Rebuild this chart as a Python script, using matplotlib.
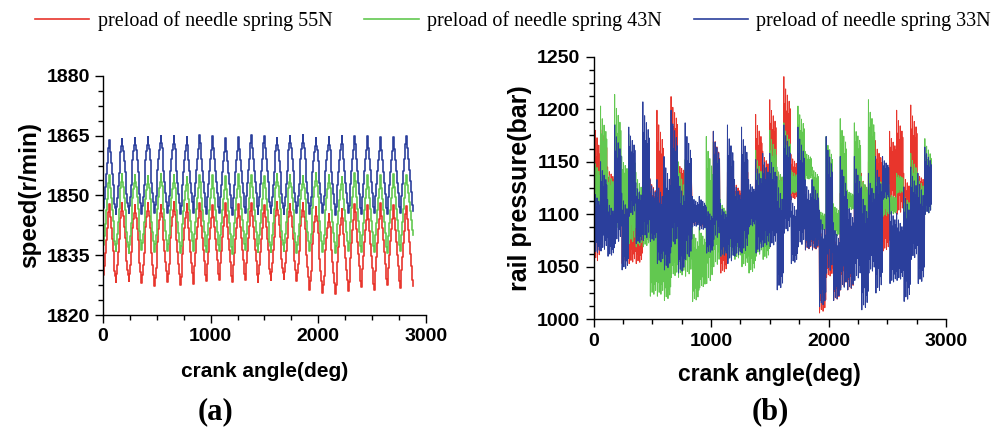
import numpy as np
import matplotlib
matplotlib.use("Agg")
import matplotlib.pyplot as plt
from matplotlib.ticker import AutoMinorLocator, MultipleLocator
from matplotlib.lines import Line2D

# ---- colours / labels
c_red = "#e8352c"
c_green = "#62c850"
c_blue = "#2b3f9c"
labels = ["preload of needle spring 55N", "preload of needle spring 43N",
          "preload of needle spring 33N"]

# ---- (a) engine speed, one firing cycle = 120 deg, 24 cycles
cycle_len = 120
blue_peak = [1863.8, 1864.2, 1864.5, 1864.6, 1865.0, 1864.9, 1864.6, 1865.1, 1865.0, 1864.3,
             1864.6, 1865.1, 1865.0, 1864.5, 1865.0, 1865.1, 1864.3, 1864.6, 1864.8, 1864.9,
             1865.0, 1864.6, 1864.7, 1864.9]
blue_trough = [1845.0, 1845.3, 1845.5, 1845.4, 1845.6, 1845.5, 1845.3, 1845.6, 1845.4, 1845.5,
               1845.2, 1845.6, 1845.4, 1845.5, 1845.3, 1845.5, 1845.4, 1845.6, 1845.2, 1845.5,
               1845.4, 1845.6, 1845.3, 1845.5, 1846.0]
green_peak = [1855.0, 1855.3, 1855.2, 1854.8, 1855.4, 1855.0, 1854.6, 1855.2, 1855.0, 1854.8,
              1855.3, 1855.1, 1854.9, 1855.4, 1855.2, 1854.8, 1855.5, 1855.0, 1854.7, 1855.6,
              1855.2, 1855.0, 1855.3, 1855.1]
green_trough = [1835.5, 1836.0, 1835.6, 1836.2, 1835.8, 1836.0, 1835.5, 1836.1, 1835.8, 1836.0,
                1835.4, 1836.2, 1835.9, 1835.7, 1836.1, 1835.6, 1836.0, 1835.8, 1835.5, 1836.0,
                1835.7, 1835.9, 1835.6, 1836.0, 1840.0]
red_peak = [1847.8, 1848.0, 1847.5, 1848.2, 1847.6, 1848.3, 1847.9, 1848.1, 1847.7, 1848.2,
            1847.8, 1848.0, 1847.6, 1848.3, 1847.9, 1848.2, 1847.0, 1845.3, 1846.5, 1847.8,
            1847.5, 1848.0, 1847.6, 1847.3]
red_trough = [1828.0, 1828.3, 1828.5, 1828.0, 1827.2, 1828.3, 1827.5, 1827.8, 1828.5, 1828.8,
              1828.2, 1828.8, 1828.4, 1828.8, 1829.0, 1828.5, 1826.4, 1825.5, 1825.3, 1826.0,
              1827.0, 1826.2, 1827.5, 1826.8, 1827.2]
speed_ticks = [1820, 1835, 1850, 1865, 1880]
# stepped shape inside one cycle (offset deg, fraction of trough->peak)
rise_off = [0, 4, 10, 18, 26, 34, 42, 50, 56]
rise_lvl = [0.0, 0.1, 0.22, 0.38, 0.55, 0.7, 0.82, 0.9, 1.0]
fall_off = [61, 66, 74, 82, 90, 98, 106, 112, 117]
fall_lvl = [0.9, 0.84, 0.7, 0.55, 0.4, 0.26, 0.14, 0.08, 0.0]

# ---- (b) rail pressure, envelopes per 60 deg block (hi, lo)
seg_len = 60
blue_hi = [1125, 1150, 1114, 1185, 1120, 1183, 1130, 1207, 1133, 1133, 1155, 1199, 1136, 1187,
           1117, 1117, 1107, 1179, 1110, 1185, 1133, 1183, 1133, 1152, 1158, 1158, 1136, 1185,
           1117, 1183, 1133, 1133, 1104, 1174, 1092, 1155, 1114, 1155, 1126, 1139, 1155, 1155,
           1110, 1101, 1126, 1145, 1139, 1164]
blue_lo = [1062, 1065, 1060, 1072, 1047, 1098, 1072, 1075, 1074, 1053, 1047, 1069, 1044, 1057,
           1088, 1085, 1063, 1076, 1060, 1053, 1060, 1063, 1088, 1063, 1069, 1069, 1028, 1082,
           1053, 1069, 1066, 1066, 1012, 1044, 1018, 1028, 1028, 1037, 1009, 1044, 1025, 1114,
           1034, 1037, 1017, 1057, 1034, 1100]
red_hi = [1194, 1191, 1145, 1140, 1130, 1130, 1120, 1174, 1134, 1199, 1132, 1212, 1149, 1142,
          1110, 1100, 1100, 1179, 1110, 1140, 1133, 1161, 1120, 1195, 1160, 1209, 1142, 1231,
          1157, 1133, 1120, 1110, 1090, 1100, 1080, 1120, 1100, 1110, 1139, 1150, 1170, 1133,
          1179, 1199, 1139, 1204, 1139, 1139]
red_lo = [1053, 1085, 1100, 1090, 1053, 1053, 1053, 1076, 1076, 1060, 1060, 1110, 1114, 1120,
          1090, 1088, 1070, 1080, 1044, 1070, 1080, 1080, 1090, 1090, 1100, 1107, 1107, 1114,
          1114, 1126, 1066, 1066, 1006, 1040, 1018, 1030, 1028, 1060, 1063, 1080, 1090, 1065,
          1110, 1100, 1079, 1100, 1110, 1110]
green_hi = [1155, 1203, 1142, 1214, 1155, 1176, 1140, 1130, 1114, 1114, 1104, 1120, 1150, 1152,
            1088, 1088, 1174, 1169, 1114, 1126, 1126, 1120, 1123, 1161, 1126, 1180, 1145, 1187,
            1142, 1203, 1160, 1145, 1104, 1174, 1110, 1191, 1123, 1187, 1136, 1209, 1139, 1139,
            1120, 1139, 1120, 1158, 1136, 1172]
green_lo = [1085, 1082, 1088, 1082, 1098, 1072, 1069, 1069, 1022, 1022, 1018, 1040, 1040, 1041,
            1017, 1030, 1034, 1050, 1060, 1057, 1057, 1050, 1044, 1060, 1057, 1090, 1098, 1110,
            1120, 1120, 1133, 1110, 1085, 1090, 1079, 1080, 1104, 1104, 1085, 1090, 1098, 1098,
            1100, 1120, 1076, 1090, 1091, 1100]
# stroke pattern inside a block (fraction of lo->hi for stroke tops and bottoms)
stroke_top = [1.0, 0.78, 0.9, 0.72, 0.85, 0.7, 0.8, 0.74]
stroke_bot = [0.0, 0.14, 0.04, 0.18, 0.02, 0.12, 0.06, 0.15]


def speed_trace(peak, trough):
    xs, ys = [], []
    for k in range(len(peak)):
        x0 = k * cycle_len
        for o, f in zip(rise_off, rise_lvl):
            xs.append(x0 + o)
            ys.append(trough[k] + f * (peak[k] - trough[k]))
        for o, f in zip(fall_off, fall_lvl):
            xs.append(x0 + o)
            ys.append(trough[k + 1] + f * (peak[k] - trough[k + 1]))
    xs.append(len(peak) * cycle_len)
    ys.append(trough[-1])
    return np.array(xs), np.array(ys)


def pressure_trace(hi, lo):
    xs, ys = [], []
    n = len(stroke_top)
    step = seg_len / n
    for k in range(len(hi)):
        x0 = k * seg_len
        for j in range(n):
            xs += [x0 + j * step, x0 + (j + 0.5) * step]
            ys += [lo[k] + stroke_top[j] * (hi[k] - lo[k]),
                   lo[k] + stroke_bot[j] * (hi[k] - lo[k])]
    return np.array(xs), np.array(ys)


plt.rcParams["font.family"] = ["Liberation Sans Narrow", "Liberation Sans", "DejaVu Sans"]
fig = plt.figure(figsize=(9.98, 4.37), dpi=100)

ax1 = fig.add_axes([0.1032, 0.279, 0.3236, 0.5476])
ax2 = fig.add_axes([0.5947, 0.2693, 0.3532, 0.601])

for pk, tr, c in [(red_peak, red_trough, c_red), (green_peak, green_trough, c_green),
                  (blue_peak, blue_trough, c_blue)]:
    x, y = speed_trace(pk, tr)
    ax1.step(x, y, where="post", color=c, lw=1.2)

for hi, lo, c in [(red_hi, red_lo, c_red), (green_hi, green_lo, c_green),
                  (blue_hi, blue_lo, c_blue)]:
    x, y = pressure_trace(hi, lo)
    ax2.plot(x, y, color=c, lw=0.7)

ax1.set_xlim(0, 3000)
ax1.set_ylim(1820, 1880)
ax1.set_yticks(speed_ticks)
ax2.set_xlim(0, 3000)
ax2.set_ylim(1000, 1250)
ax2.yaxis.set_major_locator(MultipleLocator(50))

for ax in (ax1, ax2):
    ax.xaxis.set_major_locator(MultipleLocator(1000))
    ax.xaxis.set_minor_locator(AutoMinorLocator(4))
    ax.yaxis.set_minor_locator(AutoMinorLocator(4))
    ax.spines["top"].set_visible(False)
    ax.spines["right"].set_visible(False)
    ax.spines["left"].set_linewidth(1.0)
    ax.spines["bottom"].set_linewidth(1.0)
    ax.tick_params(which="major", direction="out", length=6, width=1.0, labelsize=14)
    ax.tick_params(which="minor", direction="out", length=3.5, width=1.0)
    for t in ax.get_xticklabels() + ax.get_yticklabels():
        t.set_fontweight("bold")

ax1.set_xlabel("crank angle(deg)", fontsize=15, fontweight="bold", labelpad=12)
ax2.set_xlabel("crank angle(deg)", fontsize=16.5, fontweight="bold", labelpad=10)
ax1.set_ylabel("speed(r/min)", fontsize=17.5, fontweight="bold", labelpad=4)
ax2.set_ylabel("rail pressure(bar)", fontsize=18, fontweight="bold", labelpad=4)

handles = [Line2D([], [], color=c, lw=1.2) for c in (c_red, c_green, c_blue)]
fig.legend(handles, labels, loc="upper center", bbox_to_anchor=(0.514, 1.015), ncol=3,
           frameon=False, prop={"family": "Liberation Serif", "size": 14.5},
           handlelength=2.7, handletextpad=0.4, columnspacing=1.6)

fig.text(0.216, 0.04, "(a)", family="Liberation Serif", fontsize=22, fontweight="bold",
         ha="center")
fig.text(0.772, 0.04, "(b)", family="Liberation Serif", fontsize=22, fontweight="bold",
         ha="center")

fig.savefig("out.png", dpi=100)
